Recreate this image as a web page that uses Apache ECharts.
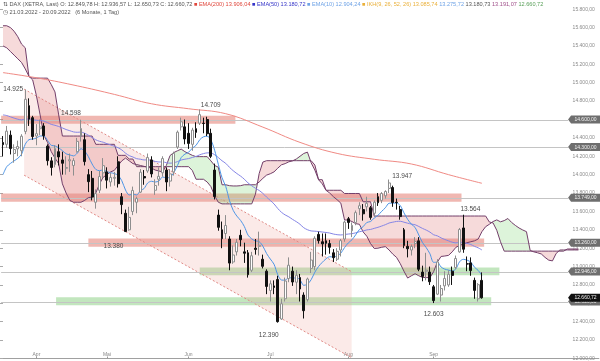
<!DOCTYPE html>
<html><head><meta charset="utf-8">
<script src="https://cdn.jsdelivr.net/npm/echarts@6/dist/echarts.min.js"></script>
<style>html,body{margin:0;padding:0;background:#fff}#c{width:600px;height:361px}</style>
</head><body><div id="c"></div>
<script>
// ---------- DATA ----------
const monthNames = ['Apr','Mai','Jun','Jul','Aug','Sep'];
const monthIdx = [9,28,50,72,93,116];
const nSlots = 161;

const open = [14350,14330,14430,14230,14280,14260,14470,14750,14620,14420,
 14500,14530,14310,14150,14110,14250,14160,14070,14150,14100,
 14250,14420,14380,14000,13960,13700,13830,14020,14030,13920,
 13960,14140,13760,13580,13400,13600,13700,13810,13980,14040,
 14160,13830,13950,14020,14050,13930,14030,14300,14520,14520,
 14450,14330,14500,14560,14560,14600,14450,14050,13560,13400,
 13360,13300,13050,13160,13340,13160,13150,12960,13200,13220,
 13080,12950,12740,12790,12860,12430,12650,12870,12950,12830,
 12880,12690,12640,12980,13000,13350,13270,13280,13250,13150,
 13080,13180,13300,13520,13390,13480,13630,13620,13650,13640,
 13580,13760,13720,13770,13850,13860,13700,13620,13400,13220,
 13180,13250,13280,12940,12950,12940,12780,12700,12690,12790,
 12800,12950,12990,13160,13420,13030,13040,12850,12650,12849.78];
const close = [14326,14473,14284,14274,14306,14418,14820,14604,14415,14446,
 14518,14424,14152,14078,14284,14193,14124,14076,14163,14153,
 14362,14502,14142,13924,13756,13793,13979,14098,13940,13970,
 13971,13902,13674,13381,13535,13828,13739,14027,13964,14186,
 14008,13882,13982,14175,13920,14008,14231,14462,14575,14388,
 14340,14485,14460,14653,14556,14445,14199,13762,13427,13304,
 13447,13038,13126,13265,13292,13145,12912,13118,13187,13231,
 13003,12784,12813,12773,12401,12595,12843,13015,12832,12905,
 12756,12520,12865,13071,13308,13282,13247,13254,13210,13097,
 13166,13282,13484,13480,13449,13587,13662,13574,13688,13535,
 13700,13694,13795,13817,13910,13697,13697,13544,13230,13194,
 13220,13271,12971,12893,12961,12835,12630,13050,12761,12871,
 12916,12904,13088,13403,13189,13028,12956,12741,12803,12660.72];
const low = [14200,14290,14220,14130,14200,14200,14440,14530,14380,14320,
 14430,14380,14100,13990,14080,14100,14000,14000,14030,13990,
 14240,14360,14100,13810,13720,13630,13800,13960,13850,13870,
 13880,13860,13570,13380,13390,13560,13580,13800,13890,14020,
 13970,13780,13880,13980,13820,13870,13990,14280,14480,14330,
 14280,14260,14400,14540,14450,14420,14180,13730,13390,13200,
 13300,12960,13030,13120,13220,13040,12880,12940,13130,13120,
 12980,12700,12620,12700,12390,12420,12620,12830,12790,12700,
 12620,12435,12620,12930,12960,13250,13110,13130,13140,13050,
 13060,13110,13270,13410,13320,13450,13560,13500,13600,13510,
 13540,13660,13690,13740,13800,13650,13620,13510,13200,13100,
 13120,13200,12950,12840,12850,12800,12603,12690,12620,12740,
 12780,12800,12970,13150,13150,12950,12900,12650,12620,12650.73];
const high = [14420,14530,14480,14330,14370,14440,14925,14830,14640,14550,
 14600,14560,14330,14190,14320,14330,14250,14200,14230,14180,
 14400,14598,14450,14060,14040,13840,14040,14180,14080,14020,
 14030,14200,13800,13620,13650,13870,13760,14060,14050,14230,
 14200,13950,14080,14200,14080,14060,14250,14480,14620,14600,
 14560,14510,14570,14709,14620,14630,14500,14120,13620,13490,
 13560,13330,13230,13300,13400,13260,13180,13160,13300,13380,
 13130,12970,12850,12850,12900,12650,12880,13100,13000,12960,
 12920,12720,12880,13160,13330,13380,13360,13360,13290,13190,
 13200,13300,13500,13540,13480,13610,13700,13680,13760,13660,
 13720,13800,13810,13830,13947,13880,13740,13660,13420,13280,
 13240,13320,13320,13010,13150,13000,12800,13080,12800,12950,
 12960,13000,13120,13420,13564,13110,13100,12880,12820,12936.57];

const ema10 = [14000,14086,14122,14150,14178,14222,14331,14381,14387,14398,
 14420,14421,14372,14319,14313,14291,14261,14227,14215,14204,
 14233,14282,14257,14196,14116,14057,14043,14053,14032,14021,
 14012,13992,13934,13833,13779,13788,13779,13824,13849,13910,
 13928,13920,13931,13975,13965,13973,14020,14100,14186,14223,
 14244,14288,14319,14380,14412,14418,14378,14266,14113,13966,
 13872,13720,13612,13549,13502,13437,13342,13301,13280,13271,
 13222,13142,13082,13026,12912,12854,12852,12882,12873,12879,
 12857,12796,12809,12857,12939,13001,13046,13084,13107,13105,
 13116,13146,13207,13257,13292,13346,13403,13434,13480,13490,
 13528,13558,13601,13640,13689,13690,13691,13664,13585,13514,
 13461,13426,13343,13261,13206,13139,13046,13047,12995,12972,
 12962,12951,12976,13054,13079,13070,13049,12993,12958,12904.24];
const ema50 = [14650,14643,14629,14615,14603,14596,14605,14605,14598,14592,
 14589,14583,14566,14547,14537,14524,14508,14491,14478,14465,
 14461,14463,14450,14429,14403,14379,14363,14353,14337,14323,
 14309,14293,14269,14234,14207,14192,14174,14168,14160,14161,
 14155,14144,14138,14139,14130,14125,14129,14142,14159,14168,
 14175,14187,14198,14216,14229,14237,14236,14217,14186,14151,
 14123,14080,14043,14012,13984,13951,13910,13879,13852,13828,
 13796,13756,13719,13682,13632,13591,13562,13541,13513,13489,
 13460,13423,13401,13388,13385,13381,13376,13371,13365,13354,
 13347,13344,13349,13354,13358,13367,13379,13387,13399,13404,
 13416,13427,13441,13456,13474,13483,13491,13493,13483,13472,
 13462,13455,13436,13415,13397,13375,13346,13334,13312,13295,
 13280,13265,13258,13264,13261,13252,13240,13220,13204,13180.72];
const ema200Idx = [0,10,20,30,40,50,60,70,80,90,100,110,120,129];
const ema200 = [15110,15047,14966,14873,14771,14717,14663,14517,14351,14231,14167,14116,14000,13906.04];

// Ichimoku cloud (Senkou A / B), slots 0..155 (26 days ahead of last candle)
const spanA = [15400,15380,15340,15300,15260,15220,15150,15070,15030,14860,
 14650,14430,14350,14250,14180,14120,13900,13800,13720,13700,
 13700,13700,13720,13750,13757,13800,13900,13972,14000,14030,
 14047,14100,14150,14180,14150,14120,14110,14100,14090,14080,
 14072,14050,14040,14030,14100,14208,14240,14260,14278,14250,
 14230,14210,14196,14196,14196,14196,14150,14100,14081,13890,
 13890,13880,13877,13877,13880,13890,13890,13890,13890,13920,
 13960,13995,14010,14030,14070,14107,14120,14140,14150,14170,
 14200,14230,14245,14130,14050,13945,13900,13830,13800,13760,
 13727,13690,13507,13507,13490,13467,13460,13377,13330,13250,
 13197,13200,13210,13217,13180,13135,13100,13032,12950,12875,
 12900,12922,12900,12882,12880,12880,12945,13050,13110,13115,
 13122,13160,13210,13230,13245,13260,13270,13280,13300,13380,
 13434,13460,13490,13508,13487,13500,13523,13480,13448,13420,
 13398,13380,13175,13160,13150,13137,13100,13070,13062,13143,
 13180,13181,13181,13181,13181,13180.73];
const spanB = [15620,15620,15600,15560,15500,15420,15380,15065,15050,15050,
 15050,15050,15050,14980,14900,14650,14420,14420,14420,14420,
 14420,14420,14420,14420,14420,14330,14330,14330,14330,14330,
 14330,14210,14210,14210,14170,14170,14087,14087,14087,14087,
 14087,14087,14087,14087,14087,14087,14087,14087,14087,14087,
 14087,14045,13950,13950,13950,13920,13870,13770,13700,13682,
 13682,13682,13682,13682,13682,13682,13682,13682,13787,14012,
 14137,14152,14152,14152,14152,14152,14152,14152,14152,14152,
 14152,14152,14152,14152,14105,13945,13945,13830,13830,13830,
 13830,13830,13795,13795,13795,13795,13795,13705,13705,13705,
 13550,13550,13550,13550,13550,13550,13550,13550,13550,13550,
 13550,13550,13550,13550,13550,13550,13550,13550,13550,13550,
 13550,13550,13550,13550,13550,13550,13550,13550,13550,13550,
 13550,13485,13475,13395,13270,13168,13168,13168,13168,13168,
 13168,13168,13168,13168,13168,13168,13168,13168,13168,13168,
 13168,13168,13191.07,13191.07,13191.07,13191.07];
const ikhTenkan = 13085.74, ikhKijun = 13275.72;

// horizontal support / resistance levels
const levels = [14600, 14300, 13749, 13260, 12946, 12620];
const lastPrice = 12660.72;
// zones: [fromSlot, toSlot, low, high, kind]  kind 0 = resistance(red), 1 = support(green)
const zoneFrom = [-0.5, -0.5, 23, 53, 14.3];
const zoneTo   = [62.6, 123.5, 129.6, 133.7, 131.5];
const zoneLow  = [14553, 13705, 13215, 12905, 12580];
const zoneHigh = [14640, 13795, 13305, 12990, 12665];
const zoneKind = [0, 0, 0, 1, 1];
// trend channel: slots and upper/lower values at both ends
const chanSlot = [5.7, 93.9];
const chanUpper = [14930, 12945];
const chanLower = [13994, 12009];
// extreme labels
const extIdx = [6, 21, 53, 33, 74, 104, 124, 116];
const extVal = [14925, 14598, 14709, 13380, 12390, 13947, 13564, 12603];

// ---------- HELPERS ----------
function de(v, d) {
  if (d === undefined) d = 2;
  const s = Math.abs(v).toFixed(d).split('.');
  const i = s[0].replace(/\B(?=(\d{3})+(?!\d))/g, '.');
  return (v < 0 ? '-' : '') + (s[1] ? i + ',' + s[1] : i);
}
const FF = '"Liberation Sans", Arial, sans-serif';
const cats = [];
for (let i = 0; i < nSlots; i++) cats.push('');
monthIdx.forEach((k, j) => { cats[k] = monthNames[j]; });
const candles = open.map((o, i) => [o, close[i], low[i], high[i]]);
const n = close.length;

const RED_ZONE = 'rgba(226,112,100,0.5)';
const GREEN_ZONE = 'rgba(120,200,110,0.45)';
const CLOUD_RED = 'rgba(222,120,120,0.27)';
const CLOUD_GREEN = 'rgba(130,215,120,0.27)';
const CLOUD_LINE = '#733f6a';
const levelEndSlot = 152.2;
const extOffsets = [[-12,0],[-10,-6],[11,-4],[-12,15],[-9,13],[13,-3],[7,-6],[0,11]];

function zoneRender(params, api) {
  const x1 = api.value(0), x2 = api.value(1), lo = api.value(2), hi = api.value(3), k = api.value(4);
  const a = api.coord([x1, hi]), b = api.coord([x2, lo]);
  return {type: 'rect', shape: {x: a[0], y: a[1], width: b[0] - a[0], height: b[1] - a[1]},
    style: {fill: k ? GREEN_ZONE : RED_ZONE}};
}
function channelRender(params, api) {
  const p1 = api.coord([chanSlot[0], chanUpper[0]]), p2 = api.coord([chanSlot[1], chanUpper[1]]);
  const p3 = api.coord([chanSlot[1], chanLower[1]]), p4 = api.coord([chanSlot[0], chanLower[0]]);
  const dash = {stroke: '#e08a86', lineWidth: 1, lineDash: [2, 2]};
  return {type: 'group', children: [
    {type: 'polygon', shape: {points: [p1, p2, p3, p4]}, style: {fill: 'rgba(236,160,150,0.22)'}},
    {type: 'line', shape: {x1: p1[0], y1: p1[1], x2: p2[0], y2: p2[1]}, style: dash},
    {type: 'line', shape: {x1: p4[0], y1: p4[1], x2: p3[0], y2: p3[1]}, style: dash}
  ]};
}
function cloudRender(params, api) {
  const runs = []; let cur = null;
  for (let i = 0; i < spanA.length; i++) {
    const d = spanA[i] - spanB[i];
    if (!cur) { cur = {s: d >= 0, a: [[i, spanA[i]]], b: [[i, spanB[i]]]}; continue; }
    const dp = spanA[i - 1] - spanB[i - 1];
    if ((d >= 0) !== (dp >= 0)) {
      const t = dp / (dp - d);
      const xc = i - 1 + t, vc = spanA[i - 1] + t * (spanA[i] - spanA[i - 1]);
      cur.a.push([xc, vc]); cur.b.push([xc, vc]); runs.push(cur);
      cur = {s: d >= 0, a: [[xc, vc], [i, spanA[i]]], b: [[xc, vc], [i, spanB[i]]]};
    } else { cur.a.push([i, spanA[i]]); cur.b.push([i, spanB[i]]); }
  }
  runs.push(cur);
  return {type: 'group', children: runs.map(r => ({
    type: 'polygon',
    shape: {points: r.a.concat(r.b.slice().reverse()).map(p => api.coord(p))},
    style: {fill: r.s ? CLOUD_GREEN : CLOUD_RED}
  }))};
}
function levelRender(params, api) {
  const v = api.value(0);
  const a = api.coord([-0.5, v]), b = api.coord([levelEndSlot, v]);
  const y = Math.round(a[1]) + 0.5;
  return {type: 'line', shape: {x1: a[0], y1: y, x2: b[0], y2: y}, style: {stroke: '#c4c4c4', lineWidth: 1}};
}
function badgeRender(params, api) {
  const v = api.value(0), k = api.value(1);
  const p = api.coord([levelEndSlot, v]);
  const x0 = p[0], y = p[1], w = 600 - x0, h = 8;
  return {type: 'group', children: [
    {type: 'polygon', shape: {points: [[x0, y], [x0 + 3, y - h / 2], [x0 + w, y - h / 2], [x0 + w, y + h / 2], [x0 + 3, y + h / 2]]},
      style: {fill: k ? '#111111' : '#6e6e6e'}},
    {type: 'text', style: {text: de(v), x: x0 + 3 + (w - 3) / 2, y: y + 0.3, align: 'center', verticalAlign: 'middle',
      fill: '#f2f2f2', font: '5px ' + FF}}
  ]};
}
function extRender(params, api) {
  const i = params.dataIndex;
  const p = api.coord([api.value(0), api.value(1)]);
  const o = extOffsets[i];
  return {type: 'text', style: {text: de(api.value(1), 0), x: p[0] + o[0], y: p[1] + o[1],
    align: 'center', verticalAlign: 'middle', fill: '#4a4a4a', font: '6.5px ' + FF}};
}

// header legend
const hdr1 = '{t|⇅ DAX (XETRA, Last) O: ' + de(open[n-1]) + ' H: ' + de(high[n-1]) + ' L: ' + de(low[n-1]) + ' C: ' + de(close[n-1]) + '}' +
  ' {r|■ EMA(200) ' + de(ema200[ema200.length-1]) + '}' +
  ' {b|■ EMA(50) ' + de(ema50[n-1]) + '}' +
  ' {lb|■ EMA(10) ' + de(ema10[n-1]) + '}' +
  ' {o|■ IKH(9, 26, 52, 26) ' + de(ikhTenkan) + '} {lb|' + de(ikhKijun) + '} {t|' + de(spanA[spanA.length-1]) + '} {p|' +
  de(spanB[spanB.length-1]) + '} {g|' + de(close[n-1]) + '}';
const hdr2 = '◷ 21.03.2022 - 20.09.2022   (6 Monate, 1 Tag)';
const rs = (c) => ({fill: c, color: c, fontSize: 5.6, fontFamily: FF});

const chart = echarts.init(document.getElementById('c'), null, {renderer: 'canvas'});
chart.setOption({
  animation: false,
  backgroundColor: '#ffffff',
  grid: {left: 0, right: 0, top: 0, bottom: 2, containLabel: false},
  xAxis: [
    {type: 'category', data: cats, boundaryGap: true,
      axisLine: {show: true, lineStyle: {color: '#a0a0a0'}},
      axisTick: {show: true, inside: true, length: 2, alignWithLabel: true, interval: (i, v) => v !== '', lineStyle: {color: '#999'}},
      axisLabel: {inside: true, interval: 0, margin: 1.5, fontSize: 5, color: '#888', fontFamily: FF},
      splitLine: {show: false}},
    {type: 'value', min: -0.5, max: nSlots - 0.5, show: false}
  ],
  yAxis: {type: 'value', position: 'right', min: 12000, max: 15900, interval: 200,
    axisLine: {show: false}, splitLine: {show: false},
    axisTick: {show: true, inside: true, length: 3, lineStyle: {color: '#aaa'}},
    axisLabel: {inside: true, margin: 4, fontSize: 5, fontFamily: FF, color: '#8a8a8a', showMaxLabel: false,
      formatter: v => (v % 200 === 0 ? de(v) : '')}},
  graphic: [
    {type: 'text', left: 3, top: 1.5, z: 100, style: {text: hdr1, fontSize: 5.6, fontFamily: FF, fill: '#555',
      rich: {t: rs('#555'), r: rs('#e0473c'), b: rs('#3535c8'), lb: rs('#6fa3e6'), o: rs('#eab03a'), p: rs('#a0508a'), g: rs('#5aa05a')}}},
    {type: 'text', left: 3, top: 9.5, z: 100, style: {text: hdr2, fontSize: 5.6, fontFamily: FF, fill: '#555'}}
  ],
  series: [
    {type: 'custom', name: 'zones', xAxisIndex: 1, z: 1, clip: true, renderItem: zoneRender,
      data: zoneFrom.map((f, i) => [f, zoneTo[i], zoneLow[i], zoneHigh[i], zoneKind[i]])},
    {type: 'custom', name: 'channel', xAxisIndex: 1, z: 1, clip: true, renderItem: channelRender,
      data: [[chanSlot[0], chanUpper[0]]]},
    {type: 'custom', name: 'cloud', xAxisIndex: 1, z: 2, clip: true, renderItem: cloudRender,
      data: [[0, spanA[0]]]},
    {type: 'custom', name: 'levels', xAxisIndex: 1, z: 2, clip: true, renderItem: levelRender,
      data: levels.map(v => [v])},
    {type: 'line', name: 'SpanA', xAxisIndex: 1, z: 3, symbol: 'none', data: spanA.map((v, i) => [i, v]),
      lineStyle: {color: CLOUD_LINE, width: 1}},
    {type: 'line', name: 'SpanB', xAxisIndex: 1, z: 3, symbol: 'none', data: spanB.map((v, i) => [i, v]),
      lineStyle: {color: CLOUD_LINE, width: 1}},
    {type: 'line', name: 'EMA200', xAxisIndex: 1, z: 4, symbol: 'none', smooth: 0.4,
      data: ema200Idx.map((k, i) => [k, ema200[i]]), lineStyle: {color: '#f08a84', width: 1}},
    {type: 'line', name: 'EMA50', xAxisIndex: 1, z: 4, symbol: 'none', smooth: 0.3,
      data: ema50.map((v, i) => [i, v]), lineStyle: {color: '#8585e6', width: 1}},
    {type: 'line', name: 'EMA10', xAxisIndex: 1, z: 4, symbol: 'none', smooth: 0.3,
      data: ema10.map((v, i) => [i, v]), lineStyle: {color: '#4d95e6', width: 1}},
    {type: 'candlestick', name: 'DAX', xAxisIndex: 0, z: 5, data: candles, barWidth: 2.4,
      itemStyle: {color: '#ffffff', color0: '#111111', borderColor: '#8e8e8e', borderColor0: '#111111', borderWidth: 1}},
    {type: 'custom', name: 'extremes', xAxisIndex: 1, z: 6, clip: false, renderItem: extRender,
      data: extIdx.map((k, i) => [k, extVal[i]])},
    {type: 'custom', name: 'badges', xAxisIndex: 1, z: 7, clip: false, renderItem: badgeRender,
      data: levels.map(v => [v, 0]).concat([[lastPrice, 1]])}
  ]
});
</script></body></html>
